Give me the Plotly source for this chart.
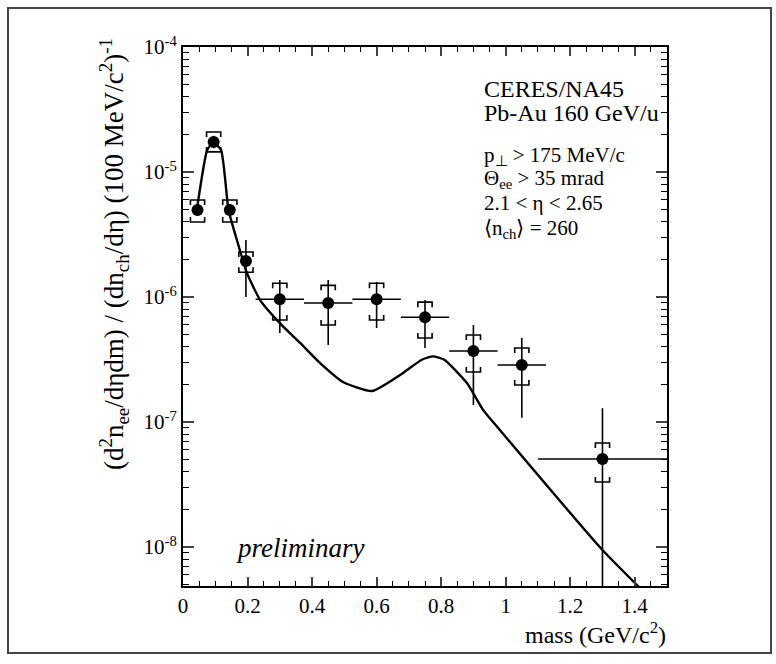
import plotly.graph_objects as go

# ---- data ----
mass = [0.045, 0.095, 0.145, 0.195, 0.30, 0.45, 0.60, 0.75, 0.90, 1.05, 1.30]
dndm = [4.97e-6, 1.74e-5, 4.97e-6, 1.94e-6, 9.6e-7, 8.95e-7, 9.6e-7, 6.9e-7, 3.7e-7, 2.86e-7, 5.06e-8]
mass_halfbin = [0, 0, 0, 0, 0.075, 0.075, 0.075, 0.075, 0.075, 0.075, 0.2]
stat_upper = [5.5e-6, 1.95e-5, 5.5e-6, 2.86e-6, 1.37e-6, 1.37e-6, 1.32e-6, 9.46e-7, 5.97e-7, 4.7e-7, 1.29e-7]
stat_lower = [4.5e-6, 1.55e-5, 4.5e-6, 1.0e-6, 5.15e-7, 4.13e-7, 5.65e-7, 3.91e-7, 1.37e-7, 1.08e-7, 1e-10]
syst_upper = [5.97e-6, 2.09e-5, 5.97e-6, 2.29e-6, 1.29e-6, 1.24e-6, 1.29e-6, 9.1e-7, 4.97e-7, 3.91e-7, 6.79e-8]
syst_lower = [3.98e-6, 1.45e-5, 3.98e-6, 1.58e-6, 6.55e-7, 5.97e-7, 6.55e-7, 4.7e-7, 2.51e-7, 1.98e-7, 3.31e-8]

cocktail_mass = [0.043, 0.075, 0.093, 0.118, 0.141, 0.167, 0.198, 0.239, 0.30, 0.363, 0.425,
                 0.496, 0.586, 0.682, 0.740, 0.775, 0.810, 0.880, 0.930, 0.982, 1.30, 1.416]
cocktail_yield = [5.0e-6, 1.5e-5, 1.72e-5, 1.5e-5, 4.97e-6, 2.86e-6, 1.56e-6, 9.46e-7, 6.19e-7,
                  4.29e-7, 2.96e-7, 2.09e-7, 1.77e-7, 2.47e-7, 3.15e-7, 3.35e-7, 3.15e-7, 2.05e-7,
                  1.25e-7, 8.63e-8, 9.46e-9, 4.7e-9]

y_tick_vals = [1e-8, 1e-7, 1e-6, 1e-5, 1e-4]
y_tick_text = ["10<sup>-8</sup>", "10<sup>-7</sup>", "10<sup>-6</sup>", "10<sup>-5</sup>", "10<sup>-4</sup>"]

FONT = "Liberation Serif"

fig = go.Figure()

# cocktail curve
fig.add_trace(go.Scatter(x=cocktail_mass, y=cocktail_yield, mode="lines",
                         line=dict(color="black", width=2.4, shape="spline", smoothing=0.5),
                         showlegend=False, hoverinfo="skip"))

# systematic brackets
bw = 0.022
tf = 10 ** (5 / 125)
bx, by = [], []
for x, yt, yb in zip(mass, syst_upper, syst_lower):
    bx += [x - bw, x - bw, x + bw, x + bw, None]
    by += [yt / tf, yt, yt, yt / tf, None]
    bx += [x - bw, x - bw, x + bw, x + bw, None]
    by += [yb * tf, yb, yb, yb * tf, None]
fig.add_trace(go.Scatter(x=bx, y=by, mode="lines", line=dict(color="black", width=1.6),
                         showlegend=False, hoverinfo="skip"))

# data points with stat errors
fig.add_trace(go.Scatter(
    x=mass, y=dndm, mode="markers",
    marker=dict(color="black", size=12),
    error_y=dict(type="data", symmetric=False,
                 array=[u - v for u, v in zip(stat_upper, dndm)],
                 arrayminus=[v - l for v, l in zip(dndm, stat_lower)],
                 color="black", thickness=1.6, width=0),
    error_x=dict(type="data", array=mass_halfbin, color="black", thickness=1.6, width=0),
    showlegend=False))

minor_y = [k * 10 ** e for e in range(-9, -4) for k in range(2, 10)]

fig.update_layout(
    width=776, height=664,
    margin=dict(l=183, r=109, t=47, b=78),
    paper_bgcolor="white", plot_bgcolor="white",
    font=dict(family=FONT, color="black", size=21),
    xaxis=dict(range=[0, 1.5], dtick=0.2, tick0=0, ticks="inside", ticklen=9, tickwidth=1.5,
               showline=True, linewidth=2, linecolor="black", mirror="ticks",
               showgrid=False, zeroline=False, tickfont=dict(size=21, family=FONT),
               minor=dict(dtick=0.05, tick0=0, ticks="inside", ticklen=5, tickwidth=1.2,
                          tickcolor="black", showgrid=False)),
    yaxis=dict(type="log", range=[-8.312, -3.9995], tickvals=y_tick_vals, ticktext=y_tick_text,
               ticks="inside", ticklen=11, tickwidth=1.5,
               showline=True, linewidth=2, linecolor="black", mirror="ticks",
               showgrid=False, zeroline=False, tickfont=dict(size=21, family=FONT),
               minor=dict(tickvals=minor_y, ticks="inside", ticklen=6, tickwidth=1.2,
                          tickcolor="black", showgrid=False)),
)

def px_x(p):
    return (p - 183) / 484.0

def px_y(p):
    return (586 - p) / 539.0

ann = []
ann.append(dict(text="(d<sup>2</sup>n<sub>ee</sub>/dηdm) / (dn<sub>ch</sub>/dη) (100 MeV/c<sup>2</sup>)<sup>-1</sup>",
                x=px_x(114), y=px_y(254), textangle=-90, font=dict(size=27)))
ann.append(dict(text="mass (GeV/c<sup>2</sup>)", x=px_x(668), y=px_y(633), xanchor="right",
                font=dict(size=24)))
ann.append(dict(text="<i>preliminary</i>", x=px_x(300), y=px_y(548), font=dict(size=27)))
box_lines = [
    ("CERES/NA45", 89, 24),
    ("Pb-Au 160 GeV/u", 113, 24),
    ("p<sub>⊥</sub> &gt; 175 MeV/c", 156, 21),
    ("Θ<sub>ee</sub> &gt; 35 mrad", 179, 21),
    ("2.1 &lt; η &lt; 2.65", 203, 21),
    ("⟨n<sub>ch</sub>⟩ = 260", 229, 21),
]
for t, yp, fs in box_lines:
    ann.append(dict(text=t, x=px_x(482), y=px_y(yp), xanchor="left", font=dict(size=fs)))

for a in ann:
    a.setdefault("xanchor", "center")
    a["xref"] = "paper"
    a["yref"] = "paper"
    a["yanchor"] = "middle"
    a["showarrow"] = False
    a["font"]["family"] = FONT
fig.update_layout(annotations=ann)

# outer frame of the figure
fig.add_shape(type="rect", xref="paper", yref="paper",
              x0=px_x(8), x1=px_x(771), y0=px_y(653), y1=px_y(8),
              line=dict(color="#444", width=2))

fig.write_html("out.html")
